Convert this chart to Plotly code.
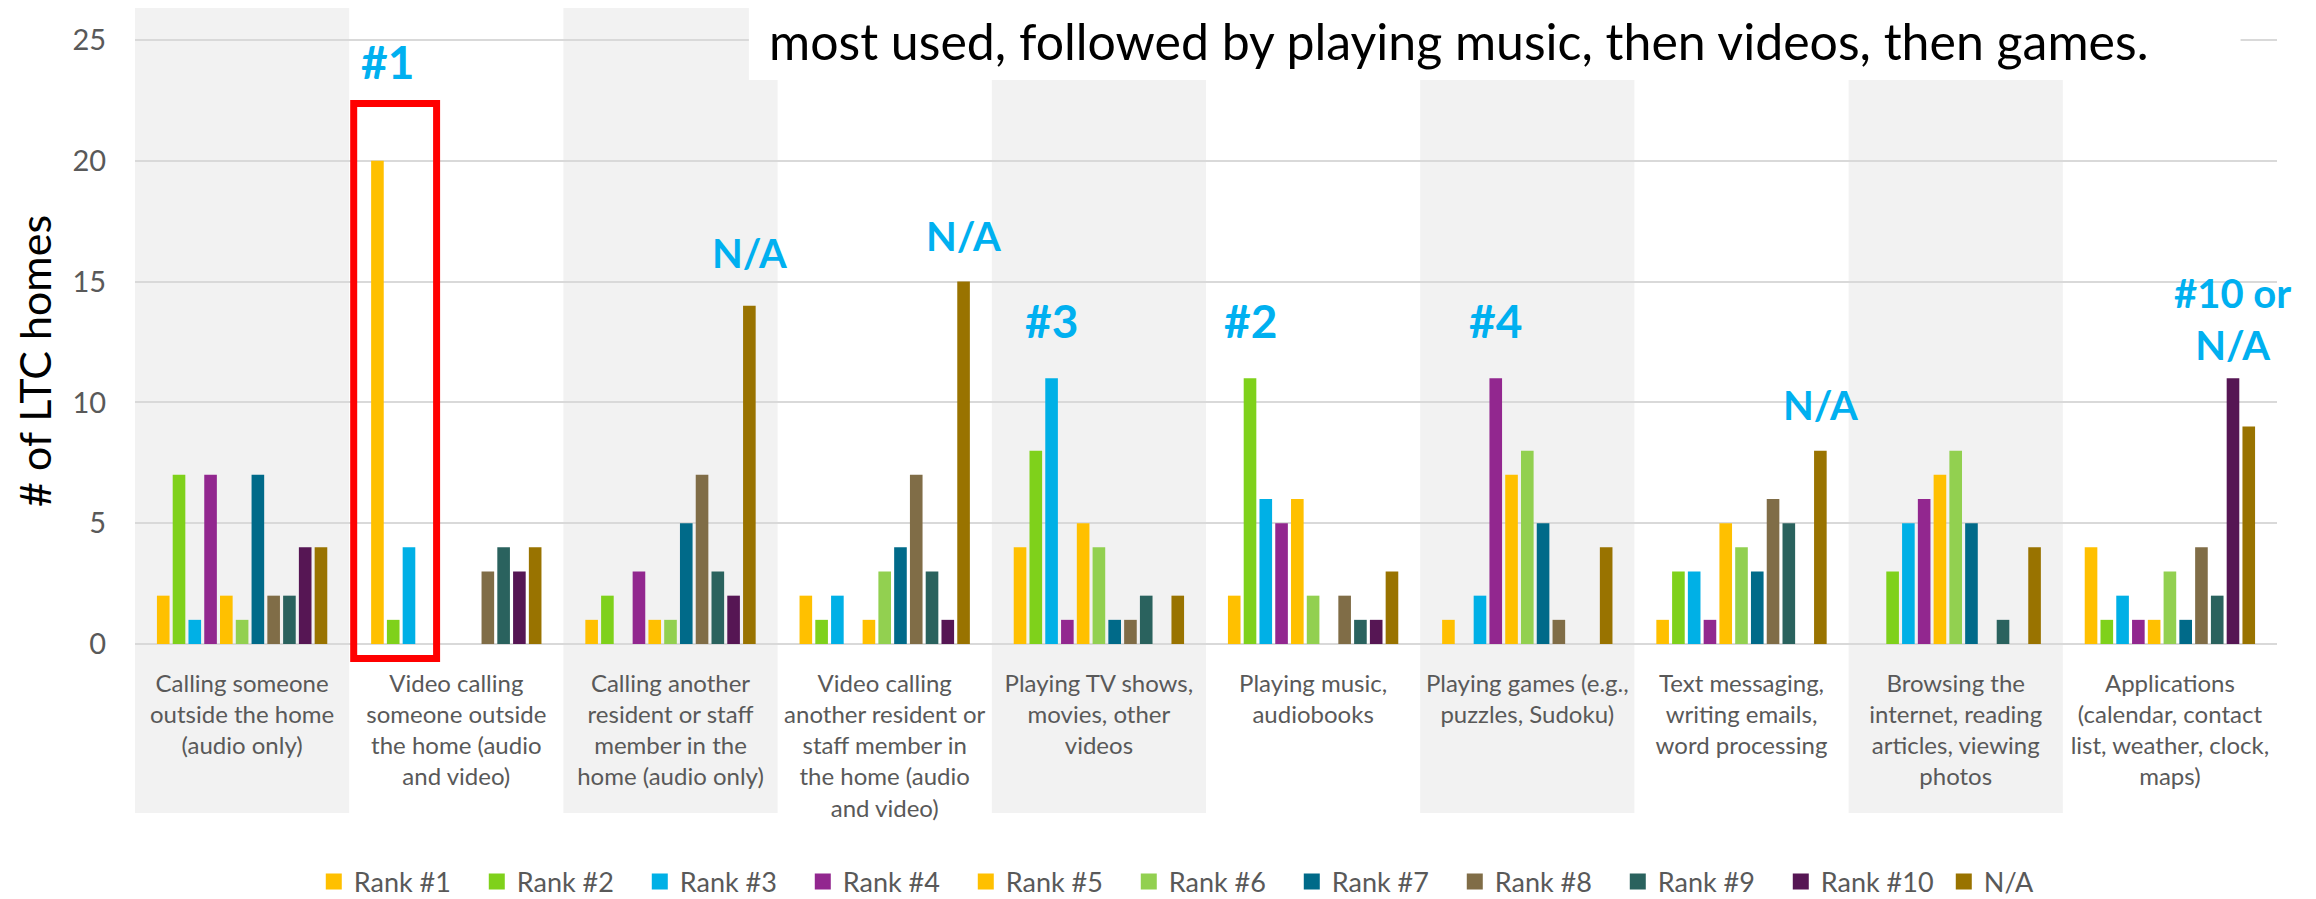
import plotly.graph_objects as go

categories = [
    "Calling someone<br>outside the home<br>(audio only)",
    "Video calling<br>someone outside<br>the home (audio<br>and video)",
    "Calling another<br>resident or staff<br>member in the<br>home (audio only)",
    "Video calling<br>another resident or<br>staff member in<br>the home (audio<br>and video)",
    "Playing TV shows,<br>movies, other<br>videos",
    "Playing music,<br>audiobooks",
    "Playing games (e.g.,<br>puzzles, Sudoku)",
    "Text messaging,<br>writing emails,<br>word processing",
    "Browsing the<br>internet, reading<br>articles, viewing<br>photos",
    "Applications<br>(calendar, contact<br>list, weather, clock,<br>maps)",
]

series_names = ["Rank #1", "Rank #2", "Rank #3", "Rank #4", "Rank #5", "Rank #6",
                "Rank #7", "Rank #8", "Rank #9", "Rank #10", "N/A"]

rank1 = [2, 20, 1, 2, 4, 2, 1, 1, 0, 4]
rank2 = [7, 1, 2, 1, 8, 11, 0, 3, 3, 1]
rank3 = [1, 4, 0, 2, 11, 6, 2, 3, 5, 2]
rank4 = [7, 0, 3, 0, 1, 5, 11, 1, 6, 1]
rank5 = [2, 0, 1, 1, 5, 6, 7, 5, 7, 1]
rank6 = [1, 0, 1, 3, 4, 2, 8, 4, 8, 3]
rank7 = [7, 0, 5, 4, 1, 0, 5, 3, 5, 1]
rank8 = [2, 3, 7, 7, 1, 2, 1, 6, 0, 4]
rank9 = [2, 4, 3, 3, 2, 1, 0, 5, 1, 2]
rank10 = [4, 3, 2, 1, 0, 1, 0, 0, 0, 11]
na_vals = [4, 4, 14, 15, 2, 3, 4, 8, 4, 9]

series_values = [rank1, rank2, rank3, rank4, rank5, rank6, rank7, rank8, rank9, rank10, na_vals]

colors = ["#FFC000", "#7FD11B", "#00B0E6", "#92278F", "#FFC000", "#92D050",
          "#006A89", "#806D47", "#2A625E", "#561654", "#997300"]

# callouts: category index, series index, text, y value, font size, pixel x shift
callout_cat = [1, 2, 3, 4, 5, 6, 7, 9]
callout_series = [0, 10, 10, 2, 1, 3, 10, 9]
callout_text = ["#1", "N/A", "N/A", "#3", "#2", "#4", "N/A", "#10 or<br>N/A"]
callout_y = [24.1, 16.2, 16.9, 13.4, 13.4, 13.4, 9.9, 13.47]
callout_size = [46, 40, 40, 46, 46, 46, 40, 40]
callout_xshift = [10, 0, 0, 0, 0, 0, 0, 0]

BARGAP = 0.19
N_SERIES = len(series_names)
SLOT = (1 - BARGAP) / N_SERIES

fig = go.Figure()
for name, vals, col in zip(series_names, series_values, colors):
    fig.add_trace(go.Bar(
        name=name, x=list(range(len(categories))), y=vals,
        marker=dict(color=col, line=dict(width=0)),
        legendgroup=name, showlegend=False,
    ))
# legend entries (larger square swatches)
for name, col in zip(series_names, colors):
    fig.add_trace(go.Scatter(
        name=name, x=[None], y=[None], mode="markers",
        marker=dict(symbol="square", size=16, color=col),
        legendgroup=name, showlegend=True, hoverinfo="skip",
    ))

shapes = []
# alternating shaded category bands
for i in range(0, len(categories), 2):
    shapes.append(dict(type="rect", xref="x", yref="paper",
                       x0=i - 0.5, x1=i + 0.5, y0=-0.2657, y1=1.0,
                       fillcolor="#F2F2F2", line=dict(width=0), layer="below"))
# white text box covering top area
shapes.append(dict(type="rect", xref="x", yref="paper",
                   x0=2.366, x1=9.33, y0=0.8868, y1=1.02,
                   fillcolor="white", line=dict(width=0), layer="above"))
# red highlight box
shapes.append(dict(type="rect", xref="x", yref="paper",
                   x0=0.521, x1=0.908, y0=-0.0228, y1=0.8498,
                   line=dict(color="#FF0000", width=7), fillcolor="rgba(0,0,0,0)",
                   layer="above"))

annotations = []
for c, s, t, yv, fs, dx in zip(callout_cat, callout_series, callout_text, callout_y,
                               callout_size, callout_xshift):
    annotations.append(dict(
        x=c + (s - (N_SERIES - 1) / 2) * SLOT, y=yv, xref="x", yref="y",
        xshift=dx,
        text="<b>" + t + "</b>", showarrow=False,
        font=dict(family="Lato", size=fs, color="#00B0F0"),
        xanchor="center", yanchor="middle", align="center"))

annotations.append(dict(
    x=0.6177, y=0.948, xref="paper", yref="paper",
    text="most used, followed by playing music, then videos, then games.",
    showarrow=False, font=dict(family="Lato", size=50, color="black"),
    xanchor="center", yanchor="middle"))

annotations.append(dict(
    x=-0.0467, y=0.445, xref="paper", yref="paper",
    text="# of LTC homes", textangle=-90, showarrow=False,
    font=dict(family="Lato", size=43, color="black"),
    xanchor="center", yanchor="middle"))

fig.update_layout(
    width=2308, height=891, autosize=False,
    margin=dict(l=127, r=39, t=0, b=255, autoexpand=False),
    paper_bgcolor="white", plot_bgcolor="rgba(0,0,0,0)",
    barmode="group", bargap=BARGAP, bargroupgap=0.2,
    font=dict(family="Lato", color="#595959"),
    shapes=shapes, annotations=annotations,
    legend=dict(orientation="h", x=0.502, xanchor="center", y=-0.374, yanchor="middle",
                font=dict(family="Lato", size=27, color="#595959"),
                entrywidth=118, entrywidthmode="pixels",
                traceorder="normal"),
    showlegend=True,
)
fig.update_xaxes(
    tickmode="array", tickvals=list(range(len(categories))), ticktext=categories,
    range=[-0.5, len(categories) - 0.5], automargin=False,
    tickfont=dict(family="Lato", size=24, color="#595959"),
    ticks="outside", ticklen=18, tickcolor="rgba(0,0,0,0)",
    showgrid=False, showline=False, zeroline=False,
)
fig.update_yaxes(
    range=[0, 26.32], dtick=5, tick0=0, automargin=False,
    tickfont=dict(family="Lato", size=29, color="#595959"),
    ticks="outside", ticklen=22, tickcolor="rgba(0,0,0,0)",
    showgrid=True, gridcolor="#D9D9D9", gridwidth=2,
    zeroline=True, zerolinecolor="#D9D9D9", zerolinewidth=2,
    showline=False,
)

fig.write_html("out.html")
